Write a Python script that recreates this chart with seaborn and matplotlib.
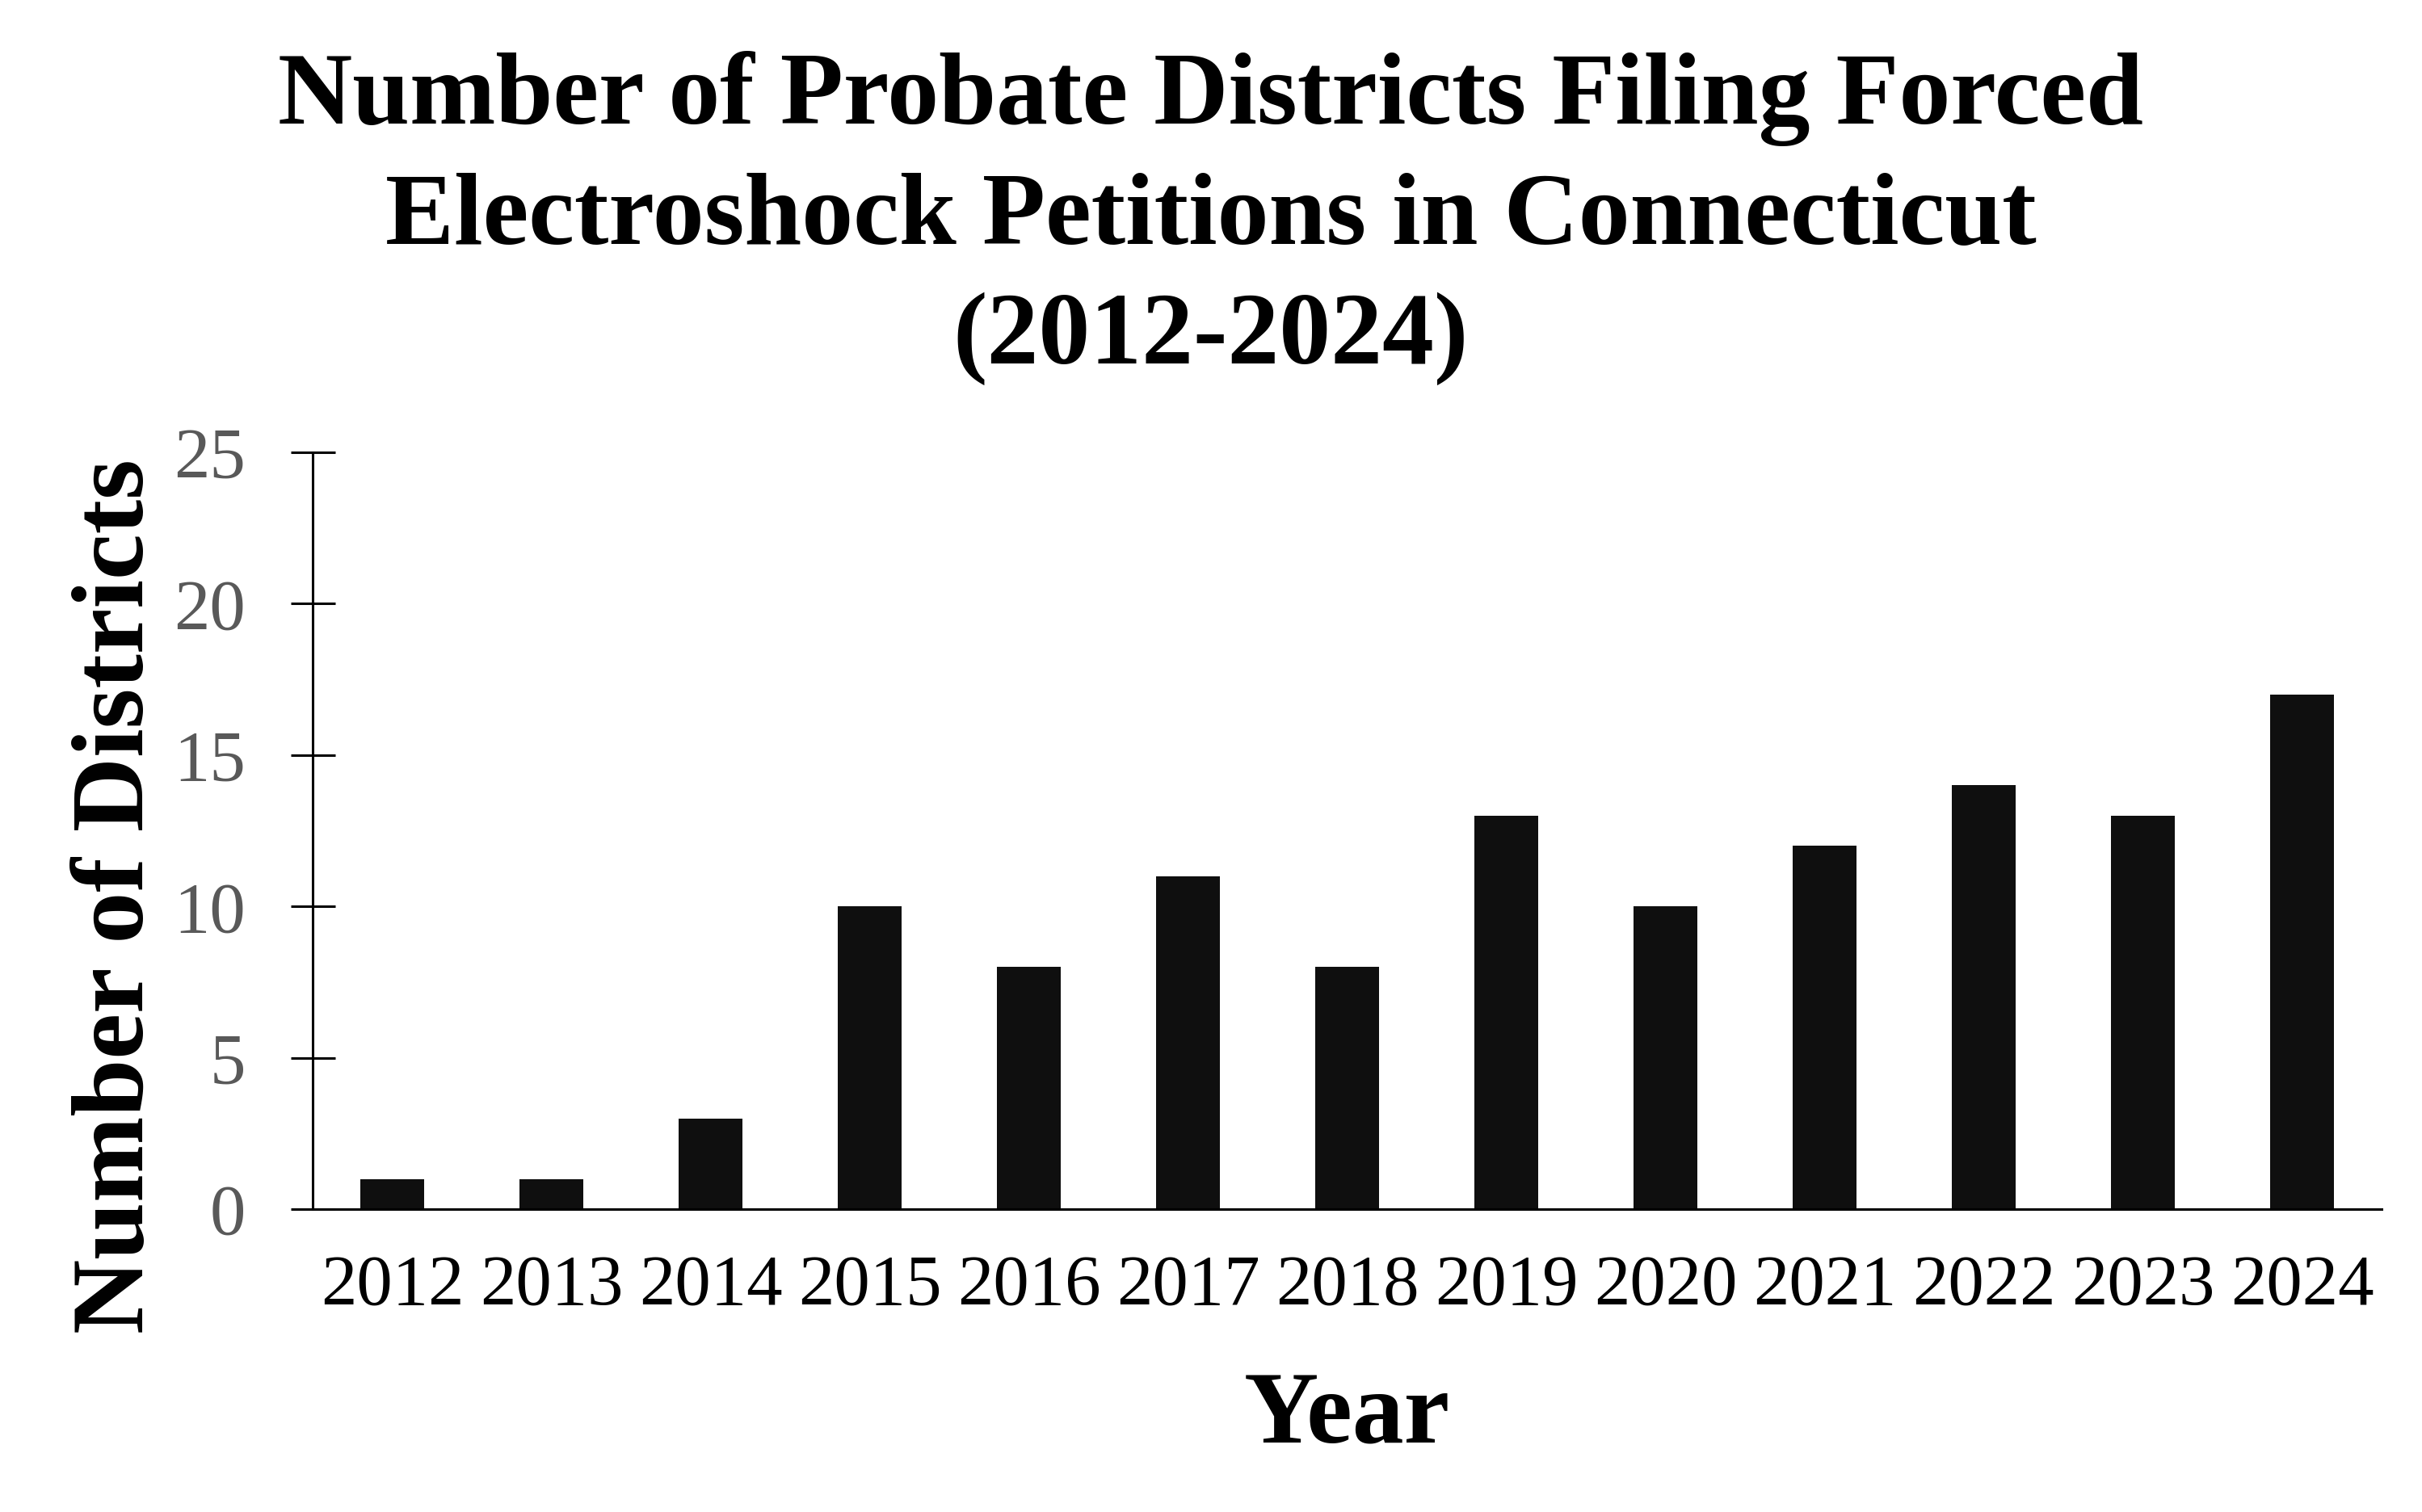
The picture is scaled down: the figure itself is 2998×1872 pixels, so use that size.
import matplotlib
matplotlib.use("Agg")
import matplotlib.pyplot as plt
import seaborn as sns
import pandas as pd

# ---- data ----
years = ["2012", "2013", "2014", "2015", "2016", "2017", "2018",
         "2019", "2020", "2021", "2022", "2023", "2024"]
districts = [1, 1, 3, 10, 8, 11, 8, 13, 10, 12, 14, 13, 17]
y_ticks = [0, 5, 10, 15, 20, 25]
title_lines = ["Number of Probate Districts Filing Forced",
               "Electroshock Petitions in Connecticut",
               "(2012-2024)"]
x_label = "Year"
y_label = "Number of Districts"

sns.set_theme(style="white")
plt.rcParams["font.family"] = ["Liberation Serif", "DejaVu Serif"]

W, H, DPI = 2998, 1872, 200
fig = plt.figure(figsize=(W / DPI, H / DPI), dpi=DPI)
fig.patch.set_facecolor("white")

left, right, bottom, top = 387, 2948, 1497, 560
ax = fig.add_axes([left / W, 1 - bottom / H, (right - left) / W, (bottom - top) / H])
ax.set_facecolor("white")

df = pd.DataFrame({"Year": years, "Districts": districts})
sns.barplot(data=df, x="Year", y="Districts", color="#0f0f0f", saturation=1,
            width=0.4, ax=ax, edgecolor="none")

ax.set_xlim(-0.5, len(years) - 0.5)
ax.set_ylim(0, 25)
ax.set_yticks(y_ticks)

for s in ["top", "right"]:
    ax.spines[s].set_visible(False)
for s in ["left", "bottom"]:
    ax.spines[s].set_visible(True)
    ax.spines[s].set_color("black")
    ax.spines[s].set_linewidth(1.1)

ax.tick_params(axis="y", direction="inout", length=19.8, width=1.1, color="black",
               pad=20, labelsize=32, labelcolor="#595959", left=True)
ax.tick_params(axis="x", length=0, pad=20, labelsize=32, labelcolor="black", bottom=False)

ax.set_xlabel(x_label, fontsize=46, fontweight="bold", color="black")
ax.xaxis.label.set_va("baseline")
ax.xaxis.set_label_coords(0.5, (bottom - 1787) / (bottom - top))

ax.set_ylabel(y_label, fontsize=46, fontweight="bold", color="black")
ax.yaxis.label.set_va("baseline")
ax.yaxis.set_label_coords((177 - left) / (right - left), (bottom - 1110) / (bottom - top))

for line, base in zip(title_lines, [153, 302, 450]):
    fig.text(0.5, 1 - base / H, line, ha="center", va="baseline",
             fontsize=46, fontweight="bold", color="black")

fig.savefig("out.png", dpi=DPI, facecolor="white")
